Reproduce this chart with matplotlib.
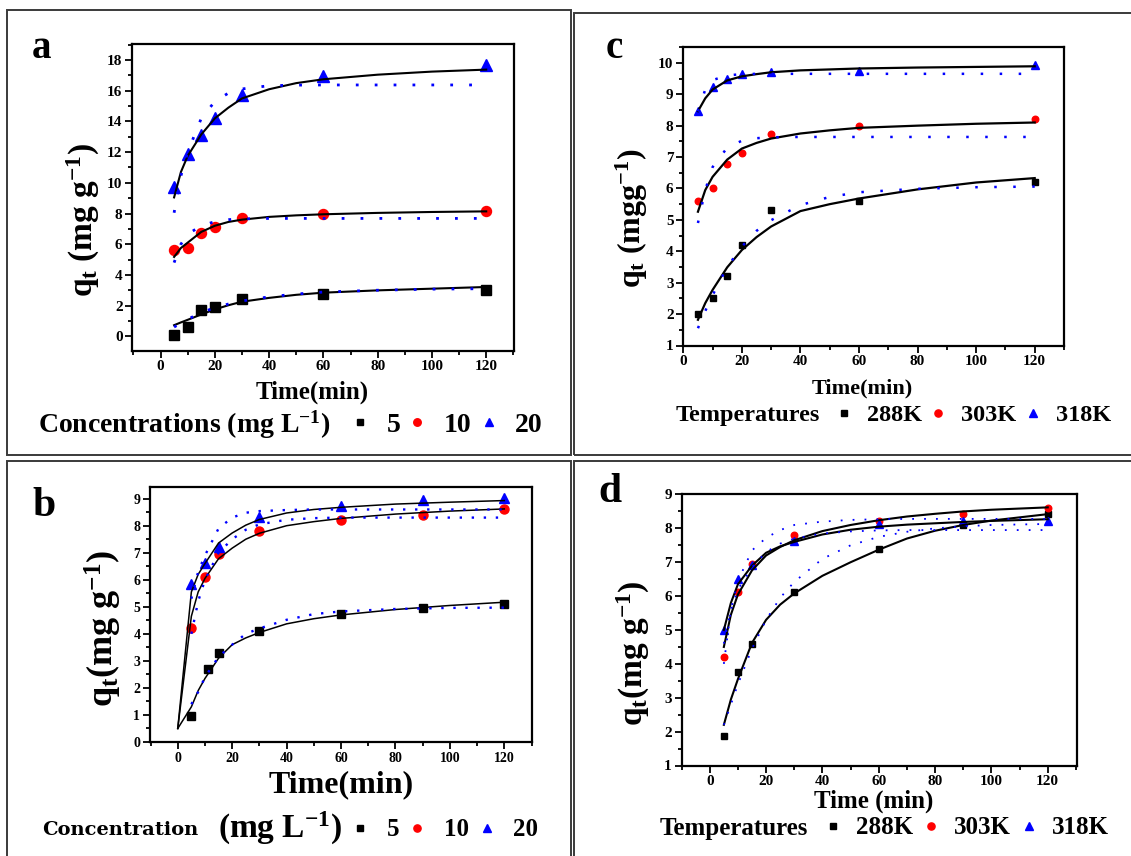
import matplotlib
matplotlib.use("Agg")
import matplotlib.pyplot as plt
from matplotlib.patches import Rectangle
from matplotlib.ticker import MultipleLocator

plt.rcParams["font.family"] = ["Liberation Serif", "DejaVu Serif"]
plt.rcParams["font.weight"] = "bold"
plt.rcParams["mathtext.fontset"] = "custom"
plt.rcParams["mathtext.rm"] = "Liberation Serif:bold"
plt.rcParams["mathtext.it"] = "Liberation Serif:bold"
plt.rcParams["mathtext.bf"] = "Liberation Serif:bold"

W, H = 1131, 856

# ---------- (a) concentration, model 1 ----------
t_a = [5, 10, 15, 20, 30, 60, 120]
qa_5 = [0.07, 0.6, 1.7, 1.9, 2.4, 2.78, 3.0]
qa_10 = [5.6, 5.78, 6.76, 7.1, 7.7, 7.96, 8.18]
qa_20 = [9.75, 11.9, 13.15, 14.25, 15.7, 16.95, 17.67]
ta_fit = [5, 7.5, 10, 15, 20, 25, 30, 40, 50, 60, 80, 100, 120]
fa_5 = [0.72, 0.9, 1.07, 1.42, 1.75, 2.02, 2.25, 2.5, 2.7, 2.84, 2.99, 3.1, 3.21]
fa_10 = [5.17, 5.75, 6.1, 6.8, 7.2, 7.45, 7.6, 7.78, 7.88, 7.95, 8.04, 8.1, 8.14]
fa_20 = [9.05, 10.7, 11.75, 13.15, 14.2, 14.9, 15.5, 16.1, 16.5, 16.75, 17.05, 17.25, 17.38]
da_5 = [0.6, 0.85, 1.1, 1.55, 1.85, 2.1, 2.3, 2.57, 2.75, 2.88, 3.0, 3.07, 3.1]
da_10 = [4.8, 6.0, 6.65, 7.2, 7.47, 7.6, 7.65, 7.68, 7.68, 7.68, 7.68, 7.68, 7.68]
da_20 = [8.05, 10.45, 12.0, 14.2, 15.3, 15.85, 16.12, 16.33, 16.37, 16.38, 16.38, 16.38, 16.38]

# ---------- (b) concentration, model 2 ----------
t_b = [5, 10, 15, 30, 60, 90, 120]
t_b5 = [5, 11, 15, 30, 60, 90, 120]
qb_5 = [0.95, 2.7, 3.3, 4.1, 4.72, 4.95, 5.11]
qb_10 = [4.21, 6.1, 6.96, 7.8, 8.21, 8.41, 8.6]
qb_20 = [5.83, 6.63, 7.23, 8.33, 8.73, 8.95, 9.04]
tb_fit = [0, 5, 7.5, 10, 15, 20, 25, 30, 40, 50, 60, 80, 100, 120]
fb_5 = [0.5, 1.3, 1.9, 2.35, 3.1, 3.6, 3.85, 4.05, 4.37, 4.56, 4.7, 4.9, 5.05, 5.17]
fb_10 = [0.5, 4.65, 5.55, 6.05, 6.78, 7.17, 7.5, 7.72, 8.0, 8.15, 8.27, 8.43, 8.54, 8.62]
fb_20 = [0.5, 5.55, 6.2, 6.6, 7.36, 7.73, 8.02, 8.23, 8.47, 8.6, 8.68, 8.8, 8.87, 8.93]
tb_dot = [5, 7.5, 10, 15, 20, 25, 30, 40, 50, 60, 80, 100, 120]
db_5 = [1.4, 1.85, 2.4, 3.15, 3.6, 4.0, 4.2, 4.52, 4.73, 4.83, 4.92, 4.96, 4.97]
db_10 = [4.0, 5.2, 6.0, 7.0, 7.5, 7.85, 8.05, 8.22, 8.28, 8.3, 8.3, 8.3, 8.3]
db_20 = [5.3, 6.3, 6.9, 7.9, 8.3, 8.48, 8.54, 8.58, 8.6, 8.6, 8.6, 8.6, 8.6]

# ---------- (c) temperature, model 1 ----------
t_c = [5, 10, 15, 20, 30, 60, 120]
qc_288 = [2.0, 2.5, 3.2, 4.2, 5.3, 5.6, 6.2]
qc_303 = [5.6, 6.0, 6.78, 7.14, 7.72, 7.99, 8.21]
qc_318 = [8.47, 9.22, 9.49, 9.64, 9.7, 9.75, 9.94]
tc_fit = [5, 7.5, 10, 15, 20, 25, 30, 40, 50, 60, 80, 100, 120]
fc_288 = [1.82, 2.35, 2.77, 3.49, 4.04, 4.45, 4.79, 5.28, 5.5, 5.68, 5.97, 6.19, 6.33]
fc_303 = [5.26, 5.95, 6.37, 6.92, 7.27, 7.45, 7.59, 7.75, 7.85, 7.93, 8.0, 8.06, 8.1]
fc_318 = [8.46, 8.87, 9.15, 9.44, 9.57, 9.64, 9.7, 9.76, 9.79, 9.82, 9.85, 9.87, 9.89]
dc_288 = [1.55, 2.1, 2.6, 3.5, 4.15, 4.65, 4.99, 5.47, 5.73, 5.88, 5.99, 6.04, 6.06]
dc_303 = [4.9, 5.95, 6.68, 7.3, 7.52, 7.6, 7.63, 7.64, 7.64, 7.64, 7.64, 7.64, 7.64]
dc_318 = [8.45, 9.15, 9.45, 9.6, 9.64, 9.65, 9.65, 9.65, 9.65, 9.65, 9.65, 9.65, 9.65]

# ---------- (d) temperature, model 2 ----------
t_d = [5, 10, 15, 30, 60, 90, 120]
qd_288 = [1.86, 3.76, 4.6, 6.11, 7.39, 8.11, 8.41]
qd_303 = [4.21, 6.11, 6.95, 7.81, 8.21, 8.41, 8.61]
qd_318 = [5.01, 6.52, 6.93, 7.62, 8.14, 8.23, 8.21]
td_fit = [5, 7.5, 10, 15, 20, 25, 30, 40, 50, 60, 70, 80, 90, 100, 120]
fd_288 = [2.2, 2.95, 3.55, 4.62, 5.3, 5.75, 6.08, 6.6, 7.0, 7.37, 7.7, 7.93, 8.1, 8.23, 8.42]
fd_303 = [4.5, 5.45, 6.05, 6.76, 7.2, 7.45, 7.65, 7.92, 8.1, 8.24, 8.35, 8.43, 8.5, 8.55, 8.62]
fd_318 = [5.0, 5.8, 6.35, 6.9, 7.28, 7.47, 7.6, 7.82, 7.96, 8.05, 8.11, 8.15, 8.19, 8.22, 8.27]
dd_288 = [2.2, 2.8, 3.4, 4.45, 5.3, 5.95, 6.42, 7.1, 7.5, 7.75, 7.9, 8.0, 8.06, 8.1, 8.13]
dd_303 = [4.0, 5.6, 6.45, 7.35, 7.72, 7.95, 8.1, 8.2, 8.25, 8.27, 8.28, 8.28, 8.28, 8.28, 8.28]
dd_318 = [4.6, 5.6, 6.2, 6.85, 7.3, 7.55, 7.7, 7.85, 7.91, 7.94, 7.95, 7.95, 7.95, 7.95, 7.95]


def rect(l, t, r, b):
    # pixel box -> figure fraction
    return [l / W, 1 - b / H, (r - l) / W, (b - t) / H]


def ftext(x, y, s, **kw):
    fig.text(x / W, 1 - y / H, s, **kw)


fig = plt.figure(figsize=(W / 100, H / 100), dpi=100)

# panel frames
for l, t, r, b in [(7.3, 10, 571, 455), (574.3, 13.3, 1140, 454.5),
                   (7.3, 460.7, 571, 870), (574.3, 460.7, 1140, 870)]:
    fig.add_artist(Rectangle((l / W, 1 - b / H), (r - l) / W, (b - t) / H,
                             transform=fig.transFigure, fill=False,
                             edgecolor="#3a3a3a", linewidth=1.4))


def make_panel(box, xlim, ylim, ymaj, ymin, tick_fs):
    ax = fig.add_axes(rect(*box))
    ax.set_xlim(*xlim)
    ax.set_ylim(*ylim)
    ax.xaxis.set_major_locator(MultipleLocator(20))
    ax.xaxis.set_minor_locator(MultipleLocator(10))
    ax.yaxis.set_major_locator(MultipleLocator(ymaj))
    ax.yaxis.set_minor_locator(MultipleLocator(ymin))
    ax.tick_params(which="both", direction="out", top=False, right=False,
                   width=1.3, labelsize=tick_fs, pad=2)
    ax.tick_params(which="major", length=5)
    ax.tick_params(which="minor", length=3)
    for s in ax.spines.values():
        s.set_linewidth(1.6)
    for lab in ax.get_xticklabels() + ax.get_yticklabels():
        lab.set_fontweight("bold")
    return ax


def place_labels(ax, box, xl, yl):
    l, t, r, b = box
    (xs, xx, xy, xfs), (ys, yx, yy, yfs) = xl, yl
    ax.set_xlabel(xs, fontsize=xfs, fontweight="bold")
    ax.xaxis.set_label_coords((xx - l) / (r - l), (b - xy) / (b - t))
    ax.xaxis.label.set(va="center", ha="center")
    ax.set_ylabel(ys, fontsize=yfs, fontweight="bold")
    ax.yaxis.set_label_coords((yx - l) / (r - l), (b - yy) / (b - t))
    ax.yaxis.label.set(va="center", ha="center", rotation_mode="default")


def add_legend(ax, handles, labels, x, y, fs, pad, colsp, mscale):
    ax.legend(handles=handles, labels=labels, ncol=3, loc="center left",
              bbox_to_anchor=(x / W, 1 - y / H), bbox_transform=fig.transFigure,
              frameon=False, borderpad=0, borderaxespad=0, handlelength=0.8,
              handletextpad=pad, columnspacing=colsp, markerscale=mscale,
              numpoints=1, prop=dict(family="Liberation Serif", weight="bold", size=fs))


# ---------------- panel a ----------------
box_a = (132.3, 44, 513.5, 350.5)
ax = make_panel(box_a, (-10.4, 130.05), (-0.93, 19.05), 2, 1, 11)
h1, = ax.plot(t_a, qa_5, ls="none", marker="s", ms=6.5, color="black", zorder=2)
h2, = ax.plot(t_a, qa_10, ls="none", marker="o", ms=7.2, color="red", zorder=2)
h3, = ax.plot(t_a, qa_20, ls="none", marker="^", ms=8.5, color="blue", zorder=2)
for f in (fa_5, fa_10, fa_20):
    ax.plot(ta_fit, f, color="black", lw=1.5, zorder=3)
for d in (da_5, da_10, da_20):
    ax.plot(ta_fit, d, color="blue", lw=2, ls=(0, (1, 5.8)), zorder=3)
place_labels(ax, box_a, ("Time(min)", 312.5, 392, 18),
             (r"$q_t$ (mg g$^{-1}$)", 83, 220, 24))
add_legend(ax, [h1, h2, h3], ["5", "10", "20"], 348.9, 425, 20, 0.55, 0.22, 0.75)
ftext(37.8, 425, r"Concentrations (mg L$^{-1}$)", fontsize=20, fontweight="bold",
      ha="left", va="center")
ftext(41.5, 48, "a", fontsize=28, fontweight="bold", ha="center", va="center")

# ---------------- panel c ----------------
box_c = (683.3, 46.5, 1064, 345.5)
ax = make_panel(box_c, (0, 130), (1, 10.52), 1, 0.5, 11)
h1, = ax.plot(t_c, qc_288, ls="none", marker="s", ms=4.3, color="black", zorder=2)
h2, = ax.plot(t_c, qc_303, ls="none", marker="o", ms=4.7, color="red", zorder=2)
h3, = ax.plot(t_c, qc_318, ls="none", marker="^", ms=5.2, color="blue", zorder=2)
for f in (fc_288, fc_303, fc_318):
    ax.plot(tc_fit, f, color="black", lw=1.6, zorder=3)
for d in (dc_288, dc_303, dc_318):
    ax.plot(tc_fit, d, color="blue", lw=1.8, ls=(0, (1, 6.6)), zorder=3)
place_labels(ax, box_c, ("Time(min)", 862.5, 388, 16),
             (r"$q_t$ (mgg$^{-1}$)", 632, 218, 23))
add_legend(ax, [h1, h2, h3], ["288K", "303K", "318K"], 834, 415, 17.5, 0.56, 0.26, 1.1)
ftext(676, 415, "Temperatures", fontsize=17.5, fontweight="bold", ha="left", va="center")
ftext(614, 48, "c", fontsize=28, fontweight="bold", ha="center", va="center")

# ---------------- panel b ----------------
box_b = (150, 486.5, 531.5, 742)
ax = make_panel(box_b, (-10.2, 130), (0, 9.45), 1, 0.5, 10)
h1, = ax.plot(t_b5, qb_5, ls="none", marker="s", ms=5.8, color="black", zorder=2)
h2, = ax.plot(t_b, qb_10, ls="none", marker="o", ms=6.5, color="red", zorder=2)
h3, = ax.plot(t_b, qb_20, ls="none", marker="^", ms=7.2, color="blue", zorder=2)
for f in (fb_5, fb_10, fb_20):
    ax.plot(tb_fit, f, color="black", lw=1.1, zorder=3)
for d in (db_5, db_10, db_20):
    ax.plot(tb_dot, d, color="blue", lw=1.7, ls=(0, (1, 4.1)), zorder=3)
place_labels(ax, box_b, ("Time(min)", 341, 785, 23),
             (r"$q_t$(mg g$^{-1}$)", 103, 628, 26))
add_legend(ax, [h1, h2, h3], ["5", "10", "20"], 350, 830, 18, 0.67, 0.31, 0.8)
ftext(42.5, 830, "Concentration", fontsize=14, fontweight="bold", ha="left",
      va="center", family="DejaVu Serif")
ftext(218, 828, r"(mg L$^{-1}$)", fontsize=24, fontweight="bold", ha="left", va="center")
ftext(44, 506, "b", fontsize=30, fontweight="bold", ha="center", va="center")

# ---------------- panel d ----------------
box_d = (681.6, 494.5, 1077, 765.5)
ax = make_panel(box_d, (-10, 130.4), (1, 9), 1, 0.5, 11)
h1, = ax.plot(t_d, qd_288, ls="none", marker="s", ms=4.3, color="black", zorder=2)
h2, = ax.plot(t_d, qd_303, ls="none", marker="o", ms=4.7, color="red", zorder=2)
h3, = ax.plot(t_d, qd_318, ls="none", marker="^", ms=5.2, color="blue", zorder=2)
for f in (fd_288, fd_303, fd_318):
    ax.plot(td_fit, f, color="black", lw=1.5, zorder=3)
for d in (dd_288, dd_303, dd_318):
    ax.plot(td_fit, d, color="blue", lw=1.3, ls=(0, (1, 5.6)), zorder=3)
place_labels(ax, box_d, ("Time (min)", 874, 801, 18),
             (r"$q_t$(mg g$^{-1}$)", 633, 653, 24))
add_legend(ax, [h1, h2, h3], ["288K", "303K", "318K"], 822.9, 828, 18, 0.52, 0.32, 1.1)
ftext(660, 828, "Temperatures", fontsize=18, fontweight="bold", ha="left", va="center")
ftext(610, 491.5, "d", fontsize=30, fontweight="bold", ha="center", va="center")

fig.savefig("out.png", dpi=100)
